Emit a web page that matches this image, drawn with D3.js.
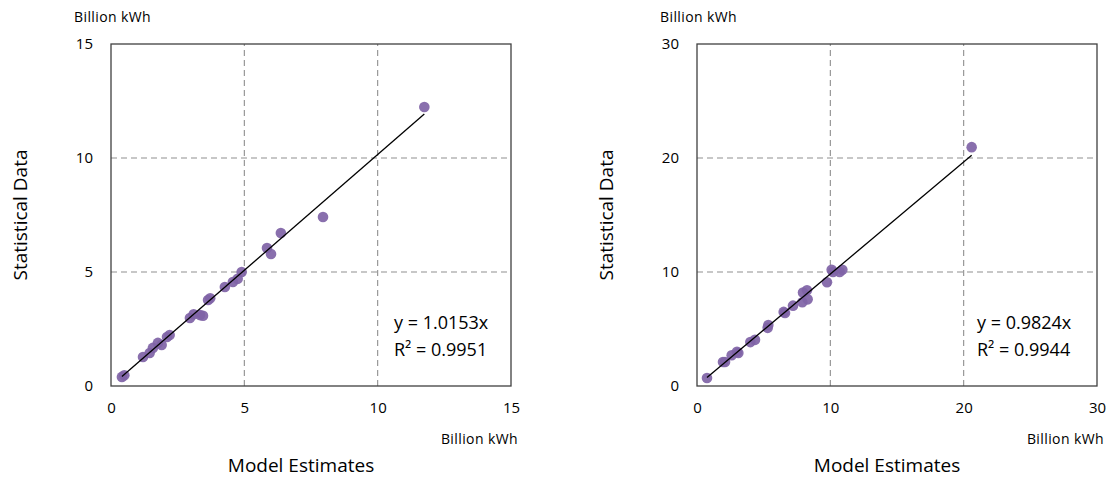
<!DOCTYPE html>
<html>
<head>
<meta charset="utf-8">
<script src="https://cdn.jsdelivr.net/npm/d3@7"></script>
<style>
  body { margin: 0; background: #fff; }
  svg text { font-family: "Open Sans", "Noto Sans", sans-serif; fill: #000; }
</style>
</head>
<body>
<svg id="chart" width="1120" height="477"></svg>
<script>
// left panel: model estimates vs statistical data
const leftX = [0.41, 0.5, 1.2, 1.45, 1.57, 1.76, 1.9, 2.1, 2.2, 2.96, 3.1, 3.34, 3.45, 3.64, 3.72, 4.27, 4.57, 4.75, 4.9, 5.85, 6.0, 6.37, 7.95, 11.75]
const leftY = [0.4, 0.47, 1.27, 1.45, 1.67, 1.89, 1.8, 2.15, 2.24, 2.98, 3.15, 3.11, 3.08, 3.77, 3.85, 4.34, 4.56, 4.7, 5.0, 6.05, 5.79, 6.71, 7.41, 12.24]
const leftTicks = [0, 5, 10, 15]
const leftSlope = 1.0153
const leftR2 = "0.9951"

// right panel
const rightX = [0.75, 1.95, 2.1, 2.6, 3.0, 3.1, 4.0, 4.35, 5.3, 5.35, 6.5, 6.6, 7.2, 7.9, 7.95, 8.25, 8.3, 9.75, 10.1, 10.2, 10.7, 10.9, 20.6]
const rightY = [0.7, 2.1, 2.1, 2.7, 3.0, 2.9, 3.85, 4.05, 5.1, 5.35, 6.5, 6.4, 7.05, 7.35, 8.2, 8.4, 7.6, 9.1, 10.2, 10.0, 10.0, 10.2, 20.95]
const rightTicks = [0, 10, 20, 30]
const rightSlope = 0.9824
const rightR2 = "0.9944"

const svg = d3.select("#chart")

function drawPanel(opt) {
    let g = svg.append("g")
    let x = d3.scaleLinear().domain([0, opt.max]).range([opt.left, opt.right])
    let y = d3.scaleLinear().domain([0, opt.max]).range([386, 44])

    // 网格线
    g.selectAll(".gx")
        .data(opt.ticks.slice(1, -1))
        .enter()
        .append("line")
        .attr("x1", d => x(d)).attr("x2", d => x(d))
        .attr("y1", y(0)).attr("y2", y(opt.max))
        .attr("stroke", "#8f8f8f").attr("stroke-width", 1.1).attr("stroke-dasharray", "6,4")
    g.selectAll(".gy")
        .data(opt.ticks.slice(1, -1))
        .enter()
        .append("line")
        .attr("y1", d => y(d)).attr("y2", d => y(d))
        .attr("x1", x(0)).attr("x2", x(opt.max))
        .attr("stroke", "#8f8f8f").attr("stroke-width", 1.1).attr("stroke-dasharray", "6,4")

    g.append("rect")
        .attr("x", x(0)).attr("y", y(opt.max))
        .attr("width", x(opt.max) - x(0)).attr("height", y(0) - y(opt.max))
        .attr("fill", "none").attr("stroke", "#404040").attr("stroke-width", 1.3)

    // tick labels
    let xAxis = g.append("g")
        .attr("transform", "translate(0," + y(0) + ")")
        .call(d3.axisBottom(x).tickValues(opt.ticks).tickSize(0).tickPadding(16))
    let yAxis = g.append("g")
        .attr("transform", "translate(" + x(0) + ",0)")
        .call(d3.axisLeft(y).tickValues(opt.ticks).tickSize(0).tickPadding(18))
    for (let a of [xAxis, yAxis]) {
        a.select(".domain").remove()
        a.selectAll("text").attr("font-size", "15px").attr("font-family", "Open Sans, sans-serif").attr("fill", "#000")
    }

    let pts = opt.xs.map((v, i) => ({ x: v, y: opt.ys[i] }))
    g.selectAll("circle")
        .data(pts)
        .enter()
        .append("circle")
        .attr("cx", d => x(d.x))
        .attr("cy", d => y(d.y))
        .attr("r", 5.3)
        .attr("fill", "#7f63a6")
        .attr("fill-opacity", 0.92)

    // trend line
    let ext = d3.extent(opt.xs)
    g.append("line")
        .attr("x1", x(ext[0])).attr("y1", y(ext[0] * opt.slope))
        .attr("x2", x(ext[1])).attr("y2", y(ext[1] * opt.slope))
        .attr("stroke", "#000").attr("stroke-width", 1.3)

    g.append("text").attr("x", opt.eqX).attr("y", 329).attr("font-size", "18px")
        .text("y = " + opt.slope.toFixed(4) + "x")
    g.append("text").attr("x", opt.eqX).attr("y", 356).attr("font-size", "18px")
        .text("R² = " + opt.r2)

    g.append("text").attr("x", opt.left - 37).attr("y", 22).attr("font-size", "14px")
        .attr("letter-spacing", "0.4px").text("Billion kWh")
    g.append("text").attr("x", opt.right + 7).attr("y", 444).attr("font-size", "14px")
        .attr("letter-spacing", "0.4px").attr("text-anchor", "end").text("Billion kWh")
    g.append("text").attr("x", (opt.left + opt.right) / 2 - 10).attr("y", 472).attr("font-size", "19px")
        .attr("text-anchor", "middle").text("Model Estimates")
    g.append("text")
        .attr("transform", "translate(" + (opt.left - 84) + ",215) rotate(-90)")
        .attr("font-size", "19px").attr("text-anchor", "middle").text("Statistical Data")
}

drawPanel({ xs: leftX, ys: leftY, ticks: leftTicks, max: 15, left: 111, right: 511, slope: leftSlope, r2: leftR2, eqX: 394 })
drawPanel({ xs: rightX, ys: rightY, ticks: rightTicks, max: 30, left: 697, right: 1097, slope: rightSlope, r2: rightR2, eqX: 977 })
</script>
</body>
</html>
